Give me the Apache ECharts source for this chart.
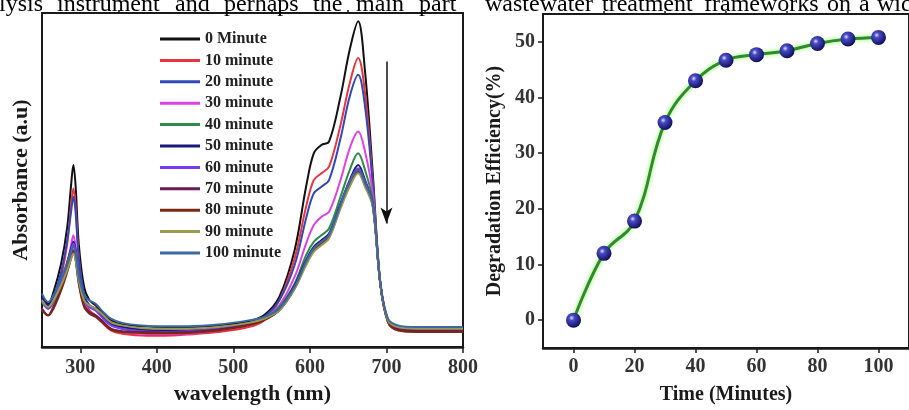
<!DOCTYPE html>
<html>
<head>
<meta charset="utf-8">
<script src="https://cdn.jsdelivr.net/npm/echarts@6/dist/echarts.min.js"></script>
<style>
  html, body { margin: 0; padding: 0; background: #fff; }
  #chart { width: 909px; height: 410px; }
</style>
</head>
<body>
<div id="chart"></div>
<script>
// left panel: UV-vis spectra (absorbance, arbitrary units)
const wavelengths = [250, 258, 265, 275, 283, 288, 291, 294, 298, 305,
  312, 320, 328, 340, 355, 380, 410, 440, 480, 520,
  540, 560, 580, 595, 605, 615, 625, 640, 652, 663,
  672, 682, 692, 702, 715, 740, 800]

const abs0 = [0.31, 0.26, 0.33, 0.50, 0.72, 0.97, 1.09, 0.96, 0.62, 0.36,
  0.28, 0.25, 0.21, 0.16, 0.135, 0.125, 0.12, 0.12, 0.13, 0.155,
  0.19, 0.30, 0.58, 0.96, 1.16, 1.21, 1.23, 1.50, 1.78, 1.95,
  1.65, 1.05, 0.38, 0.16, 0.12, 0.11, 0.11]
const abs10 = [0.23, 0.19, 0.25, 0.42, 0.62, 0.85, 0.95, 0.84, 0.54, 0.30,
  0.22, 0.19, 0.15, 0.10, 0.08, 0.07, 0.068, 0.075, 0.09, 0.12,
  0.16, 0.28, 0.53, 0.84, 1.00, 1.04, 1.08, 1.33, 1.58, 1.73,
  1.52, 1.00, 0.38, 0.15, 0.10, 0.09, 0.09]
const abs20 = [0.29, 0.24, 0.30, 0.45, 0.64, 0.81, 0.90, 0.80, 0.53, 0.32,
  0.25, 0.23, 0.19, 0.14, 0.11, 0.095, 0.09, 0.095, 0.11, 0.14,
  0.18, 0.28, 0.49, 0.77, 0.92, 0.96, 1.00, 1.25, 1.50, 1.63,
  1.44, 0.98, 0.38, 0.16, 0.11, 0.10, 0.10]
const abs30 = [0.23, 0.19, 0.24, 0.36, 0.50, 0.61, 0.67, 0.60, 0.42, 0.26,
  0.21, 0.19, 0.16, 0.11, 0.09, 0.08, 0.078, 0.08, 0.10, 0.13,
  0.17, 0.25, 0.42, 0.62, 0.73, 0.78, 0.81, 1.00, 1.19, 1.29,
  1.17, 0.92, 0.38, 0.16, 0.11, 0.10, 0.10]
const abs40 = [0.27, 0.23, 0.27, 0.37, 0.48, 0.57, 0.61, 0.56, 0.41, 0.28,
  0.24, 0.22, 0.19, 0.14, 0.12, 0.105, 0.10, 0.10, 0.115, 0.14,
  0.17, 0.24, 0.38, 0.55, 0.63, 0.67, 0.71, 0.90, 1.06, 1.16,
  1.06, 0.88, 0.38, 0.16, 0.11, 0.10, 0.10]
const abs50 = [0.30, 0.25, 0.30, 0.40, 0.51, 0.59, 0.63, 0.58, 0.43, 0.29,
  0.25, 0.23, 0.19, 0.14, 0.12, 0.105, 0.10, 0.10, 0.115, 0.145,
  0.17, 0.23, 0.37, 0.52, 0.60, 0.64, 0.68, 0.86, 1.00, 1.09,
  1.00, 0.86, 0.38, 0.16, 0.11, 0.10, 0.10]
const abs60 = [0.28, 0.23, 0.28, 0.39, 0.50, 0.58, 0.62, 0.57, 0.42, 0.28,
  0.24, 0.22, 0.18, 0.13, 0.11, 0.095, 0.09, 0.095, 0.11, 0.14,
  0.17, 0.23, 0.36, 0.51, 0.59, 0.63, 0.67, 0.85, 0.99, 1.07,
  0.99, 0.86, 0.38, 0.16, 0.11, 0.10, 0.10]
const abs70 = [0.23, 0.19, 0.24, 0.35, 0.46, 0.54, 0.58, 0.53, 0.39, 0.25,
  0.21, 0.19, 0.16, 0.11, 0.095, 0.09, 0.088, 0.09, 0.105, 0.135,
  0.165, 0.22, 0.36, 0.50, 0.58, 0.62, 0.66, 0.84, 0.98, 1.06,
  0.98, 0.85, 0.38, 0.16, 0.11, 0.10, 0.10]
const abs80 = [0.22, 0.19, 0.23, 0.34, 0.45, 0.53, 0.57, 0.52, 0.38, 0.24,
  0.20, 0.18, 0.15, 0.105, 0.09, 0.085, 0.083, 0.085, 0.10, 0.13,
  0.16, 0.22, 0.35, 0.50, 0.58, 0.62, 0.66, 0.84, 0.97, 1.05,
  0.97, 0.85, 0.38, 0.15, 0.10, 0.09, 0.09]
const abs90 = [0.28, 0.24, 0.28, 0.37, 0.46, 0.53, 0.56, 0.52, 0.40, 0.28,
  0.25, 0.23, 0.20, 0.15, 0.13, 0.115, 0.11, 0.11, 0.12, 0.145,
  0.17, 0.22, 0.35, 0.49, 0.57, 0.61, 0.65, 0.83, 0.96, 1.04,
  0.96, 0.84, 0.38, 0.16, 0.12, 0.11, 0.11]
const abs100 = [0.32, 0.27, 0.31, 0.41, 0.50, 0.57, 0.60, 0.56, 0.43, 0.31,
  0.28, 0.26, 0.22, 0.17, 0.145, 0.13, 0.125, 0.125, 0.135, 0.16,
  0.18, 0.23, 0.36, 0.51, 0.59, 0.63, 0.67, 0.85, 0.99, 1.06,
  0.98, 0.86, 0.39, 0.17, 0.13, 0.12, 0.12]

const spectraNames = ['0 Minute', '10 minute', '20 minute', '30 minute', '40 minute', '50 minute',
  '60 minute', '70 minute', '80 minute', '90 minute', '100 minute']
const spectraValues = [abs0, abs10, abs20, abs30, abs40, abs50, abs60, abs70, abs80, abs90, abs100]
const spectraColors = ['#111111', '#e8343c', '#3048b8', '#e040e8', '#2e8b4a', '#1a1a7a',
  '#7a3cf0', '#6a1a5a', '#7a2a14', '#9a9a50', '#3a6aa0']

const waveLabels = [300, 400, 500, 600, 700, 800]
const waveMinor = [350, 450, 550, 650, 750]

// arrow marking the decrease with time
const arrowWave = 700
const arrowFrom = 1.71
const arrowTo = 0.74

// right panel: degradation efficiency
const times = [0, 10, 20, 30, 40, 50, 60, 70, 80, 90, 100]
const efficiency = [0, 12, 17.8, 35.5, 43, 46.7, 47.7, 48.4, 49.7, 50.5, 50.8]
const timeLabels = [0, 20, 40, 60, 80, 100]
const timeMinor = [10, 30, 50, 70, 90]
const effLabels = [0, 10, 20, 30, 40, 50]
const effMinor = [5, 15, 25, 35, 45]

// paper text cut at the top of the figure
const leftWords = ['lysis', 'instrument', 'and', 'perhaps', 'the', 'main', 'part']
const leftWordX = [-1, 57, 175, 224, 313, 356, 419]
const rightWords = ['wastewater', 'treatment', 'frameworks', 'on', 'a', 'wide']
const rightWordX = [485, 602, 704, 827, 859, 877]

const serif = 'Liberation Serif'
const ink = '#1a1a1a'

const chart = echarts.init(document.getElementById('chart'))

const spectraSeries = spectraValues.map((vals, i) => {
  const s = {
    name: spectraNames[i],
    type: 'line',
    xAxisIndex: 0,
    yAxisIndex: 0,
    smooth: 0.35,
    showSymbol: false,
    color: spectraColors[i],
    lineStyle: { width: 2, color: spectraColors[i] },
    data: wavelengths.map((w, j) => [w, vals[j]])
  }
  if (i === 0) {
    s.markLine = {
      silent: true,
      symbol: ['none', 'arrow'],
      symbolSize: [9, 16],
      label: { show: false },
      lineStyle: { color: '#111', width: 1.5, type: 'solid' },
      data: [[{ coord: [arrowWave, arrowFrom] }, { coord: [arrowWave, arrowTo] }]]
    }
  }
  return s
})

const textGraphics = []
leftWords.forEach((w, i) => {
  textGraphics.push({
    type: 'text', left: leftWordX[i], top: -7,
    style: { text: w, font: '24px "Liberation Serif"', fill: '#000' }
  })
})
rightWords.forEach((w, i) => {
  textGraphics.push({
    type: 'text', left: rightWordX[i], top: -7,
    style: { text: w, font: '24px "Liberation Serif"', fill: '#000' }
  })
})

const boldText = size => ({ fontFamily: serif, fontWeight: 'bold', fontSize: size, color: ink })

chart.setOption({
  animation: false,
  backgroundColor: '#fff',
  graphic: textGraphics,
  legend: {
    data: spectraNames,
    orient: 'vertical',
    left: 155,
    top: 26,
    icon: 'rect',
    itemWidth: 40,
    itemHeight: 3,
    itemGap: 5.4,
    textStyle: { fontFamily: serif, fontWeight: 'bold', fontSize: 16, color: '#222', lineHeight: 16 }
  },
  grid: [
    { left: 42, top: 13, right: 446, bottom: 58, show: true, borderColor: ink, borderWidth: 2 },
    { left: 543, top: 14, right: -12, bottom: 62, show: true, borderColor: ink, borderWidth: 2 }
  ],
  xAxis: [
    {
      gridIndex: 0,
      type: 'value',
      min: 250,
      max: 800,
      name: 'wavelength (nm)',
      nameLocation: 'middle',
      nameGap: 34,
      nameTextStyle: boldText(22),
      axisLine: { onZero: false, lineStyle: { color: ink, width: 2.5 } },
      axisTick: { customValues: waveLabels, length: 6, inside: false, lineStyle: { color: ink, width: 1.5 } },
      axisLabel: { customValues: waveLabels, margin: 11, ...boldText(20), color: '#333' },
      splitLine: { show: false }
    },
    {
      gridIndex: 0,
      type: 'value',
      min: 250,
      max: 800,
      axisLine: { show: false, onZero: false },
      axisTick: { customValues: waveMinor, length: 3, lineStyle: { color: ink, width: 1.5 } },
      axisLabel: { show: false },
      splitLine: { show: false }
    },
    {
      gridIndex: 1,
      type: 'value',
      min: -10,
      max: 110,
      name: 'Time (Minutes)',
      nameLocation: 'middle',
      nameGap: 37,
      nameTextStyle: boldText(20),
      axisLine: { onZero: false, lineStyle: { color: ink, width: 2.5 } },
      axisTick: { customValues: timeLabels, length: 5, lineStyle: { color: ink, width: 1.5 } },
      axisLabel: { customValues: timeLabels, margin: 9, ...boldText(20), color: '#333' },
      splitLine: { show: false }
    },
    {
      gridIndex: 1,
      type: 'value',
      min: -10,
      max: 110,
      axisLine: { show: false, onZero: false },
      axisTick: { customValues: timeMinor, length: 3, lineStyle: { color: ink, width: 1.5 } },
      axisLabel: { show: false },
      splitLine: { show: false }
    }
  ],
  yAxis: [
    {
      gridIndex: 0,
      type: 'value',
      min: 0,
      max: 2,
      name: 'Absorbance (a.u)',
      nameLocation: 'middle',
      nameGap: 10,
      nameTextStyle: boldText(22),
      axisLine: { show: true, onZero: false, lineStyle: { color: ink, width: 2 } },
      axisTick: { show: false },
      axisLabel: { show: false },
      splitLine: { show: false }
    },
    {
      gridIndex: 1,
      type: 'value',
      min: -5,
      max: 55,
      name: 'Degradation Efficiency(%)',
      nameLocation: 'middle',
      nameGap: 38,
      nameTextStyle: boldText(20),
      axisLine: { show: true, onZero: false, lineStyle: { color: ink, width: 2 } },
      axisTick: { customValues: effLabels, length: 5, lineStyle: { color: ink, width: 1.5 } },
      axisLabel: { customValues: effLabels, margin: 8, ...boldText(20), color: '#333' },
      splitLine: { show: false }
    },
    {
      gridIndex: 1,
      type: 'value',
      min: -5,
      max: 55,
      axisLine: { show: false, onZero: false },
      axisTick: { customValues: effMinor, length: 3, lineStyle: { color: ink, width: 1.5 } },
      axisLabel: { show: false },
      splitLine: { show: false }
    }
  ],
  series: [
    ...spectraSeries,
    {
      name: 'Degradation',
      type: 'line',
      xAxisIndex: 2,
      yAxisIndex: 1,
      smooth: 0.4,
      symbol: 'circle',
      symbolSize: 15,
      lineStyle: {
        color: '#2e8b2e',
        width: 3,
        shadowColor: 'rgba(120, 255, 60, 0.9)',
        shadowBlur: 4
      },
      itemStyle: {
        color: new echarts.graphic.RadialGradient(0.38, 0.35, 0.7, [
          { offset: 0, color: '#dfe4ff' },
          { offset: 0.25, color: '#4a4ac8' },
          { offset: 1, color: '#0a0a55' }
        ])
      },
      data: times.map((t, i) => [t, efficiency[i]])
    }
  ]
})
</script>
</body>
</html>
